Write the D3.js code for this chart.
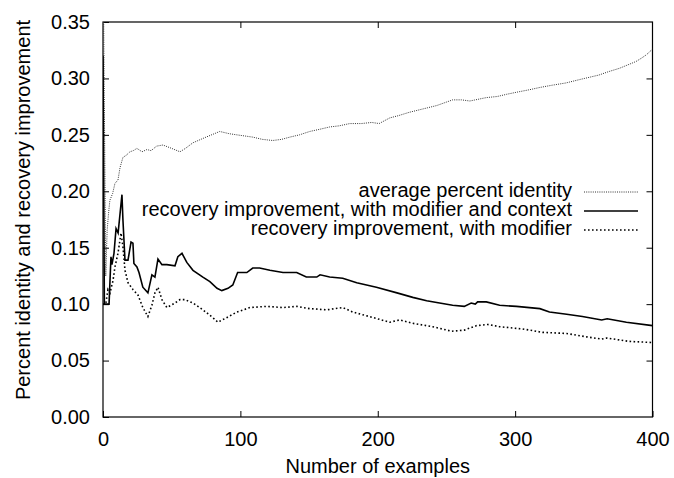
<!DOCTYPE html>
<html>
<head>
<meta charset="utf-8">
<script src="https://cdn.jsdelivr.net/npm/d3@7"></script>
<style>
  body { margin: 0; background: #fff; }
  svg { display: block; font-family: "Liberation Sans", Arial, sans-serif; }
</style>
</head>
<body>
<div id="chart"></div>
<script>
// values, [number of examples, value]
var identity = [[0.5,0.35],[2,0.125],[3,0.165],[4,0.18],[5,0.192],[7,0.198],[8.7,0.207],[10.9,0.21],[12.4,0.221],
  [14.5,0.23],[17,0.232],[19.6,0.235],[22,0.236],[24.7,0.238],[28.4,0.235],[32,0.237],[35,0.236],[39,0.24],
  [43.6,0.241],[50,0.238],[56,0.235],[60,0.238],[65.5,0.243],[75,0.248],[85,0.253],[92,0.251],[97.5,0.25],
  [109,0.248],[116,0.246],[123.6,0.245],[130,0.246],[136,0.248],[143,0.25],[150.5,0.253],[158,0.255],[165,0.257],
  [172,0.258],[179.6,0.26],[188,0.26],[195.6,0.261],[201,0.26],[208.7,0.265],[215,0.267],[223,0.27],[233,0.273],
  [243,0.276],[254.5,0.281],[261,0.281],[267,0.28],[279,0.283],[287,0.284],[294,0.286],[302,0.288],[310.5,0.29],
  [318,0.292],[327,0.294],[337,0.296],[347,0.299],[354,0.301],[361,0.303],[368,0.306],[376,0.309],[382,0.312],
  [388,0.315],[392,0.318],[395.6,0.321],[400,0.326]];

var withContext = [[0,0.32],[1,0.10],[4.4,0.10],[5.8,0.142],[6.5,0.135],[8,0.145],[9.5,0.167],[11,0.163],
  [13.8,0.197],[14.5,0.175],[16,0.139],[18.2,0.139],[20.4,0.155],[21.8,0.154],[22.5,0.136],[24.7,0.133],
  [26.2,0.128],[29,0.115],[32.7,0.110],[35.6,0.126],[37.8,0.124],[40,0.14],[42.9,0.135],[46.5,0.135],
  [52.4,0.134],[54.5,0.142],[57.5,0.145],[61,0.137],[65.5,0.130],[72.7,0.124],[77.8,0.12],[83,0.114],
  [86.5,0.112],[91,0.114],[94.5,0.117],[98,0.128],[104.7,0.128],[109,0.132],[114,0.132],[121.5,0.13],
  [131,0.128],[141,0.128],[148,0.124],[155.6,0.124],[158,0.126],[165,0.124],[174.5,0.123],[184.7,0.119],
  [199,0.115],[214,0.11],[225.5,0.106],[235.6,0.103],[245,0.101],[254.5,0.099],[263,0.098],[268,0.101],
  [271,0.1],[272.7,0.102],[279,0.102],[288.7,0.099],[301,0.098],[318,0.096],[325,0.093],[337.5,0.091],
  [349,0.089],[363,0.086],[367,0.087],[381,0.084],[400,0.081]];

var withModifier = [[0,0.10],[2,0.10],[3.6,0.113],[5.1,0.11],[7.3,0.121],[8.7,0.133],[10.9,0.145],[13.1,0.163],
  [14.5,0.151],[16,0.13],[18.2,0.119],[21.8,0.113],[25.5,0.108],[29,0.097],[32.7,0.089],[35.6,0.099],
  [37.8,0.11],[40,0.115],[42.9,0.104],[46.5,0.097],[52.4,0.101],[56,0.104],[59.6,0.104],[65.5,0.101],
  [72.7,0.095],[80,0.088],[83.6,0.084],[90,0.088],[97.5,0.093],[107,0.097],[119,0.098],[131,0.097],
  [141,0.098],[150.5,0.096],[163,0.095],[174.5,0.097],[181.8,0.093],[194,0.089],[208.7,0.084],[216,0.086],
  [225.5,0.083],[240,0.08],[253.8,0.076],[263,0.077],[272,0.081],[280,0.082],[288.7,0.08],[305.5,0.078],
  [320,0.075],[337.5,0.074],[352,0.071],[363,0.069],[366.5,0.07],[383,0.067],[400,0.066]];

var seriesNames = ["average percent identity",
  "recovery improvement, with modifier and context",
  "recovery improvement, with modifier"];
var xTicks = [0, 100, 200, 300, 400];
var yTicks = [0, 0.05, 0.10, 0.15, 0.20, 0.25, 0.30, 0.35];

var W = 674, H = 478;
var pLeft = 103, pRight = 652.5, pTop = 22, pBottom = 417;
var fs = "20px";

var svg = d3.select("#chart").append("svg")
    .attr("width", W)
    .attr("height", H);

var x = d3.scaleLinear().domain([0, 400]).range([pLeft, pRight]);
var y = d3.scaleLinear().domain([0, 0.35]).range([pBottom, pTop]);

svg.append("clipPath").attr("id", "clip")
  .append("rect").attr("x", pLeft).attr("y", pTop)
  .attr("width", pRight - pLeft).attr("height", pBottom - pTop);

// axes, ticks pointing inwards like gnuplot
var gx = svg.append("g").attr("transform", "translate(0," + pBottom + ")")
  .call(d3.axisBottom(x).tickValues(xTicks).tickSizeInner(-6).tickSizeOuter(0).tickPadding(15));
var gy = svg.append("g").attr("transform", "translate(" + pLeft + ",0)")
  .call(d3.axisLeft(y).tickValues(yTicks).tickFormat(d3.format(".2f")).tickSizeInner(-6).tickSizeOuter(0).tickPadding(13));
var gt = svg.append("g").attr("transform", "translate(0," + pTop + ")")
  .call(d3.axisTop(x).tickValues(xTicks.slice(1, -1)).tickSizeInner(-6).tickSizeOuter(0).tickFormat(""));
var gr = svg.append("g").attr("transform", "translate(" + pRight + ",0)")
  .call(d3.axisRight(y).tickValues(yTicks.slice(1, -1)).tickSizeInner(-6).tickSizeOuter(0).tickFormat(""));

[gx, gy, gt, gr].forEach(function(g){
  g.select(".domain").remove();
  g.selectAll("line").attr("stroke", "#000");
  g.selectAll("text").attr("fill", "#000").style("font-size", fs)
    .style("font-family", "'Liberation Sans', Arial, sans-serif");
});

svg.append("rect")
  .attr("x", pLeft).attr("y", pTop)
  .attr("width", pRight - pLeft).attr("height", pBottom - pTop)
  .attr("fill", "none").attr("stroke", "#000").attr("stroke-width", 1.2);

// titles
svg.append("text")
  .attr("x", (pLeft + pRight) / 2).attr("y", 473)
  .attr("text-anchor", "middle").style("font-size", fs)
  .text("Number of examples");
svg.append("text")
  .attr("transform", "translate(29.5,210) rotate(-90)")
  .attr("text-anchor", "middle").style("font-size", fs)
  .text("Percent identity and recovery improvement");

// lines
var line = d3.line().x(function(d){ return x(d[0]); }).y(function(d){ return y(d[1]); });
var styles = [
  {data: identity, color: "#333", width: 1, dash: "1,1.2"},
  {data: withContext, color: "#000", width: 1.6, dash: null},
  {data: withModifier, color: "#000", width: 1.6, dash: "1.6,2.4"}
];

var plot = svg.append("g").attr("clip-path", "url(#clip)");
styles.forEach(function(s){
  plot.append("path")
    .datum(s.data)
    .attr("d", line)
    .attr("fill", "none")
    .attr("stroke", s.color)
    .attr("stroke-width", s.width)
    .attr("stroke-dasharray", s.dash);
});

// legend
var legendY = [192, 211, 230];
var legend = svg.append("g");
styles.forEach(function(s, i){
  legend.append("text")
    .attr("x", 572).attr("y", legendY[i] + 4.5)
    .attr("text-anchor", "end").style("font-size", fs)
    .text(seriesNames[i]);
  legend.append("line")
    .attr("x1", 584).attr("x2", 638)
    .attr("y1", legendY[i]).attr("y2", legendY[i])
    .attr("stroke", s.color)
    .attr("stroke-width", s.width)
    .attr("stroke-dasharray", s.dash);
});
</script>
</body>
</html>
